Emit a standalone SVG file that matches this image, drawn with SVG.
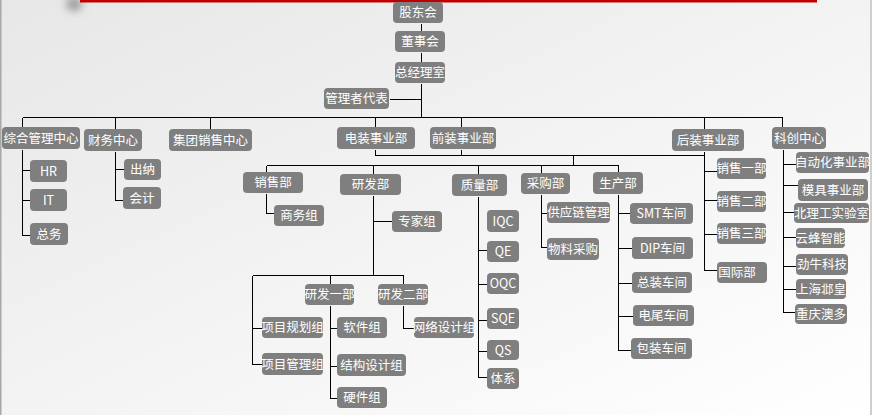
<svg xmlns="http://www.w3.org/2000/svg" width="872" height="415" viewBox="0 0 872 415">
<defs>
<linearGradient id="bg" x1="0" y1="0" x2="1" y2="1">
<stop offset="0" stop-color="#e7e7e7"/>
<stop offset="1" stop-color="#ffffff"/>
</linearGradient>
<filter id="blur" x="-1" y="-1" width="3" height="3"><feGaussianBlur stdDeviation="4"/></filter>
<style>
.n rect{fill:#7f7f7f;}
.n text{fill:#ffffff;font-family:"Noto Sans CJK SC","Microsoft YaHei",sans-serif;font-size:12.5px;text-anchor:middle;}
.c{fill:none;stroke:#000;stroke-width:1;shape-rendering:crispEdges;}
</style>
</defs>
<rect x="0" y="0" width="872" height="415" fill="url(#bg)"/>
<rect x="0" y="0" width="1.5" height="415" fill="#a8a8a8"/>
<rect x="870" y="0" width="2" height="415" fill="#cfcfcf"/>
<ellipse cx="74" cy="4" rx="8" ry="7" fill="#9a9a9a" filter="url(#blur)"/>
<rect x="80" y="0" width="737" height="2.5" fill="#c00000"/>

<g id="connectors" class="c" transform="translate(0.5,0.5)">
<path d="M421,23V31M421,52V62M421,83V117M389,99H421"/>
<path d="M22,117H782M22,117V127M115,117V129M210,117V129M375,117V127M461,117V127M704,117V129M782,117V127"/>
<path d="M22,149V235M22,170H30M22,200H30M22,235H30"/>
<path d="M115,151V200M115,169H124M115,200H123"/>
<path d="M375,149V155M461,149V155M375,155H704M573,155V165"/>
<path d="M704,151V270M704,171H717M704,200H717M704,234H717M704,270H717"/>
<path d="M266,165H618M266,165V172M373,165V174M478,165V174M541,165V173M618,165V172"/>
<path d="M266,193V213H274"/>
<path d="M373,195V275M373,221H392M252,275H403M252,275V364M252,328H262M252,364H262M330,275V284M403,275V284"/>
<path d="M330,305V398M330,328H337M330,366H337M330,398H337"/>
<path d="M403,305V328H414"/>
<path d="M478,196V377M478,250H487M478,284H487M478,320H487M478,351H487M478,377H487"/>
<path d="M541,194V247M541,213H547M541,247H547"/>
<path d="M618,194V350M618,213H630M618,248H632M618,283H632M618,316H633M618,350H631"/>
<path d="M783,149V312M783,164H796M783,185H798M783,212H794M783,237H796M783,266H796M783,289H796M783,312H795"/>
</g>

<g id="n-gudonghui" class="n"><rect x="393" y="2" width="50" height="21" rx="4"/><text x="418" y="17">股东会</text></g>
<g id="n-dongshihui" class="n"><rect x="395" y="31" width="50" height="21" rx="4"/><text x="420" y="46">董事会</text></g>
<g id="n-zongjinglishi" class="n"><rect x="395" y="62" width="50" height="21" rx="4"/><text x="420" y="77">总经理室</text></g>
<g id="n-guanlizhedaibiao" class="n"><rect x="324" y="88" width="65" height="21" rx="4"/><text x="356.5" y="103">管理者代表</text></g>

<g id="n-zonghe" class="n"><rect x="2" y="127" width="78" height="22" rx="4"/><text x="41" y="142.5">综合管理中心</text></g>
<g id="n-caiwu" class="n"><rect x="84" y="129" width="58" height="22" rx="4"/><text x="113" y="144.5">财务中心</text></g>
<g id="n-jituanxiaoshou" class="n"><rect x="169" y="129" width="83" height="22" rx="4"/><text x="210.5" y="144.5">集团销售中心</text></g>
<g id="n-dianzhuang" class="n"><rect x="337" y="127" width="78" height="22" rx="4"/><text x="376" y="142.5">电装事业部</text></g>
<g id="n-qianzhuang" class="n"><rect x="430" y="127" width="66" height="22" rx="4"/><text x="463" y="142.5">前装事业部</text></g>
<g id="n-houzhuang" class="n"><rect x="672" y="129" width="72" height="22" rx="4"/><text x="708" y="144.5">后装事业部</text></g>
<g id="n-kechuang" class="n"><rect x="772" y="127" width="54" height="22" rx="4"/><text x="799" y="142.5">科创中心</text></g>

<g id="n-hr" class="n"><rect x="30" y="160" width="37" height="22" rx="4"/><text x="48.5" y="175.5">HR</text></g>
<g id="n-it" class="n"><rect x="30" y="189" width="37" height="22" rx="4"/><text x="48.5" y="204.5">IT</text></g>
<g id="n-zongwu" class="n"><rect x="30" y="223" width="38" height="22" rx="4"/><text x="49" y="238.5">总务</text></g>
<g id="n-chuna" class="n"><rect x="124" y="159" width="37" height="21" rx="4"/><text x="142.5" y="174">出纳</text></g>
<g id="n-kuaiji" class="n"><rect x="123" y="187" width="38" height="22" rx="4"/><text x="142" y="202.5">会计</text></g>

<g id="n-xiaoshoubu" class="n"><rect x="243" y="172" width="60" height="21" rx="4"/><text x="273" y="187">销售部</text></g>
<g id="n-yanfabu" class="n"><rect x="340" y="174" width="61" height="21" rx="4"/><text x="370.5" y="189">研发部</text></g>
<g id="n-zhiliangbu" class="n"><rect x="452" y="174" width="55" height="22" rx="4"/><text x="479.5" y="189.5">质量部</text></g>
<g id="n-caigoubu" class="n"><rect x="521" y="173" width="49" height="21" rx="4"/><text x="545.5" y="188">采购部</text></g>
<g id="n-shengchanbu" class="n"><rect x="593" y="172" width="50" height="22" rx="4"/><text x="618" y="187.5">生产部</text></g>

<g id="n-shangwuzu" class="n"><rect x="274" y="205" width="50" height="21" rx="4"/><text x="299" y="220">商务组</text></g>
<g id="n-zhuanjiazu" class="n"><rect x="392" y="211" width="50" height="21" rx="4"/><text x="417" y="226">专家组</text></g>
<g id="n-yanfa1" class="n"><rect x="305" y="284" width="49" height="21" rx="4"/><text x="329.5" y="299">研发一部</text></g>
<g id="n-yanfa2" class="n"><rect x="378" y="284" width="50" height="21" rx="4"/><text x="403" y="299">研发二部</text></g>
<g id="n-xiangmuguihua" class="n"><rect x="262" y="317" width="61" height="21" rx="4"/><text x="292.5" y="332">项目规划组</text></g>
<g id="n-xiangmuguanli" class="n"><rect x="262" y="353" width="61" height="22" rx="4"/><text x="292.5" y="368.5">项目管理组</text></g>
<g id="n-ruanjian" class="n"><rect x="337" y="317" width="50" height="21" rx="4"/><text x="362" y="332">软件组</text></g>
<g id="n-jiegou" class="n"><rect x="337" y="354" width="69" height="22" rx="4"/><text x="371.5" y="369.5">结构设计组</text></g>
<g id="n-yingjian" class="n"><rect x="337" y="387" width="50" height="21" rx="4"/><text x="362" y="402">硬件组</text></g>
<g id="n-wangluo" class="n"><rect x="414" y="317" width="60" height="21" rx="4"/><text x="444" y="332">网络设计组</text></g>

<g id="n-iqc" class="n"><rect x="487" y="210" width="32" height="22" rx="4"/><text x="503" y="225.5">IQC</text></g>
<g id="n-qe" class="n"><rect x="487" y="241" width="32" height="21" rx="4"/><text x="503" y="256">QE</text></g>
<g id="n-oqc" class="n"><rect x="487" y="273" width="32" height="21" rx="4"/><text x="503" y="288">OQC</text></g>
<g id="n-sqe" class="n"><rect x="487" y="308" width="32" height="21" rx="4"/><text x="503" y="323">SQE</text></g>
<g id="n-qs" class="n"><rect x="487" y="340" width="32" height="20" rx="4"/><text x="503" y="354.5">QS</text></g>
<g id="n-tixi" class="n"><rect x="487" y="368" width="32" height="21" rx="4"/><text x="503" y="383">体系</text></g>

<g id="n-gongyinglian" class="n"><rect x="547" y="202" width="63" height="21" rx="4"/><text x="578.5" y="217">供应链管理</text></g>
<g id="n-wuliao" class="n"><rect x="547" y="238" width="52" height="22" rx="4"/><text x="573" y="253.5">物料采购</text></g>

<g id="n-smt" class="n"><rect x="630" y="203" width="63" height="21" rx="4"/><text x="661.5" y="218">SMT车间</text></g>
<g id="n-dip" class="n"><rect x="632" y="237" width="61" height="22" rx="4"/><text x="662.5" y="252.5">DIP车间</text></g>
<g id="n-zongzhuang" class="n"><rect x="632" y="272" width="60" height="21" rx="4"/><text x="662" y="287">总装车间</text></g>
<g id="n-dianwei" class="n"><rect x="633" y="305" width="61" height="21" rx="4"/><text x="663.5" y="320">电尾车间</text></g>
<g id="n-baozhuang" class="n"><rect x="631" y="338" width="61" height="21" rx="4"/><text x="661.5" y="353">包装车间</text></g>

<g id="n-xiaoshou1" class="n"><rect x="717" y="158" width="49" height="21" rx="4"/><text x="741.5" y="173">销售一部</text></g>
<g id="n-xiaoshou2" class="n"><rect x="717" y="191" width="49" height="21" rx="4"/><text x="741.5" y="206">销售二部</text></g>
<g id="n-xiaoshou3" class="n"><rect x="717" y="223" width="49" height="21" rx="4"/><text x="741.5" y="238">销售三部</text></g>
<g id="n-guoji" class="n"><rect x="717" y="262" width="50" height="21" rx="4"/><text x="737" y="277">国际部</text></g>

<g id="n-zidonghua" class="n"><rect x="796" y="152" width="73" height="21" rx="4"/><text x="832.5" y="167">自动化事业部</text></g>
<g id="n-muju" class="n"><rect x="798" y="179" width="70" height="22" rx="4"/><text x="833" y="194.5">模具事业部</text></g>
<g id="n-beiligong" class="n"><rect x="794" y="203" width="75" height="20" rx="4"/><text x="831.5" y="217.5">北理工实验室</text></g>
<g id="n-yunfeng" class="n"><rect x="796" y="228" width="49" height="20" rx="4"/><text x="820.5" y="242.5">云蜂智能</text></g>
<g id="n-jinniu" class="n"><rect x="796" y="254" width="52" height="21" rx="4"/><text x="822" y="269">劲牛科技</text></g>
<g id="n-shanghai" class="n"><rect x="796" y="279" width="50" height="20" rx="4"/><text x="821" y="293.5">上海邶皇</text></g>
<g id="n-chongqing" class="n"><rect x="795" y="304" width="52" height="20" rx="4"/><text x="821" y="318.5">重庆澳多</text></g>
</svg>
